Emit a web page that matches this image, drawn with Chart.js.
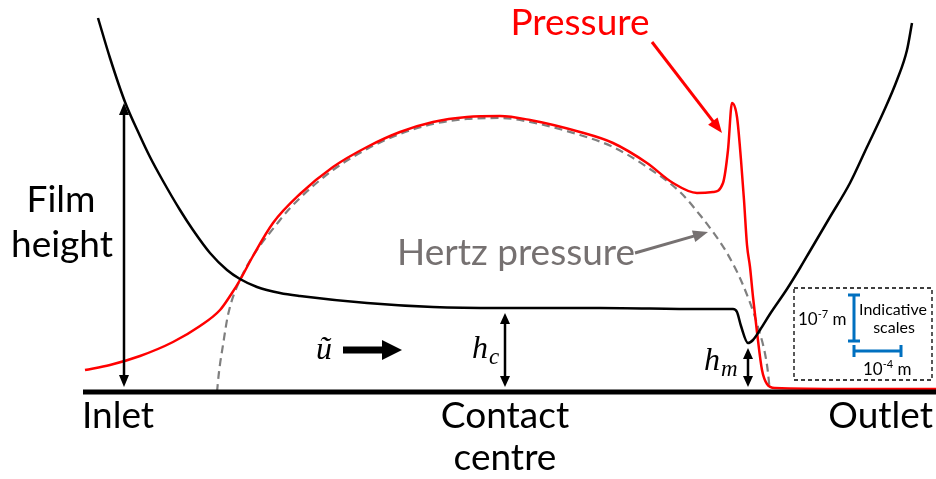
<!DOCTYPE html>
<html>
<head>
<meta charset="utf-8">
<script src="https://cdn.jsdelivr.net/npm/chart.js@4/dist/chart.umd.min.js"></script>
<style>
  html, body { margin: 0; padding: 0; background: #fff; }
  #wrap { width: 936px; height: 479px; position: relative; }
</style>
</head>
<body>
<div id="wrap"><canvas id="chart"></canvas></div>
<script>
// x = position along the contact, h = height above the flat surface (same units for all curves)

// Film height (black)
const filmX = [98, 110, 125, 140, 150, 163, 180, 193, 210, 227, 240, 257, 280, 300, 367, 433, 500, 600, 700, 733, 737, 741, 748, 753, 760, 770, 787, 800, 810, 830, 850, 867, 883, 897, 907, 912];
const filmH = [374, 334, 290, 256, 235, 211, 182, 162, 139, 122, 113, 105, 99, 96, 89, 85, 84, 84, 83, 83, 80, 66, 49, 52, 62, 78, 103, 124, 141, 175, 209, 245, 279, 312, 342, 369];

// EHL pressure (red)
const pressureX = [85, 110, 140, 173, 200, 220, 232, 240, 253, 273, 300, 333, 367, 400, 433, 467, 500, 530, 580, 613, 647, 673, 697, 713, 723, 728, 732, 737, 741, 744, 747, 750, 753, 757, 762, 767, 775, 850, 936];
const pressureH = [22, 27, 36, 50, 66, 82, 99, 112, 136, 169, 198, 225, 245, 260, 270, 275, 276, 272, 260, 249, 229, 209, 199, 200, 209, 242, 289, 275, 232, 192, 147, 125, 95, 60, 22, 8, 4, 3, 3];

// Hertz pressure (grey dashed)
const hertzX = [217, 219, 223, 228, 240, 280, 300, 333, 367, 400, 433, 467, 500, 530, 580, 613, 647, 680, 700, 713, 727, 743, 758, 767, 770];
const hertzH = [0, 20, 47, 77, 112, 172, 194, 222, 243, 258, 268, 273, 274, 270, 257, 245, 225, 200, 177, 160, 139, 107, 65, 27, 0];

// Solid surface
const surfaceX = [83, 936];
const surfaceH = [0, 0];

const toPoints = (xs, ys) => xs.map((v, i) => ({ x: v, y: ys[i] }));

const SANS = 'Lato, "Open Sans", sans-serif';
const SERIF = '"Liberation Serif", "DejaVu Serif", serif';
const RED = '#FF0000';
const GREY = '#767171';
const BLUE = '#0070C0';

function arrowHead(ctx, x1, y1, x2, y2, len, wid) {
  const a = Math.atan2(y2 - y1, x2 - x1);
  ctx.beginPath();
  ctx.moveTo(x2, y2);
  ctx.lineTo(x2 - len * Math.cos(a) + wid / 2 * Math.sin(a), y2 - len * Math.sin(a) - wid / 2 * Math.cos(a));
  ctx.lineTo(x2 - len * Math.cos(a) - wid / 2 * Math.sin(a), y2 - len * Math.sin(a) + wid / 2 * Math.cos(a));
  ctx.closePath();
  ctx.fill();
}

function arrow(ctx, x1, y1, x2, y2, opt) {
  const { color = '#000', width = 2.5, len = 12, wid = 10, both = false } = opt || {};
  const a = Math.atan2(y2 - y1, x2 - x1);
  ctx.save();
  ctx.strokeStyle = color;
  ctx.fillStyle = color;
  ctx.lineWidth = width;
  ctx.beginPath();
  const sx = both ? x1 + (len - 2) * Math.cos(a) : x1;
  const sy = both ? y1 + (len - 2) * Math.sin(a) : y1;
  ctx.moveTo(sx, sy);
  ctx.lineTo(x2 - (len - 2) * Math.cos(a), y2 - (len - 2) * Math.sin(a));
  ctx.stroke();
  arrowHead(ctx, x1, y1, x2, y2, len, wid);
  if (both) arrowHead(ctx, x2, y2, x1, y1, len, wid);
  ctx.restore();
}

function label(ctx, text, x, y, font, color, align) {
  ctx.save();
  ctx.font = font;
  ctx.fillStyle = color;
  ctx.textAlign = align || 'left';
  ctx.textBaseline = 'alphabetic';
  ctx.fillText(text, x, y);
  ctx.restore();
}

// text with a raised exponent, e.g. 10^-7 m
function sciLabel(ctx, base, exp, unit, x, y, size) {
  ctx.save();
  ctx.fillStyle = '#000';
  ctx.textAlign = 'left';
  ctx.textBaseline = 'alphabetic';
  ctx.font = size + 'px ' + SANS;
  ctx.fillText(base, x, y);
  let cx = x + ctx.measureText(base).width;
  ctx.font = Math.round(size * 0.62) + 'px ' + SANS;
  ctx.fillText(exp, cx, y - size * 0.42);
  cx += ctx.measureText(exp).width;
  ctx.font = size + 'px ' + SANS;
  ctx.fillText(unit, cx, y);
  ctx.restore();
}

// math symbol with italic subscript
function mathLabel(ctx, main, sub, x, y, size) {
  ctx.save();
  ctx.fillStyle = '#000';
  ctx.textAlign = 'left';
  ctx.textBaseline = 'alphabetic';
  ctx.font = 'italic ' + size + 'px ' + SERIF;
  ctx.fillText(main, x, y);
  const w = ctx.measureText(main).width;
  if (sub) {
    ctx.font = 'italic ' + Math.round(size * 0.72) + 'px ' + SERIF;
    ctx.fillText(sub, x + w + 1, y + size * 0.2);
  }
  ctx.restore();
}

const notesPlugin = {
  id: 'notes',
  afterDatasetsDraw(chart) {
    const ctx = chart.ctx;
    const X = v => chart.scales.x.getPixelForValue(v);
    const Y = v => chart.scales.y.getPixelForValue(v);

    // axis words
    label(ctx, 'Inlet', X(82), Y(-36), '37px ' + SANS, '#000', 'left');
    label(ctx, 'Contact', X(505), Y(-36), '37px ' + SANS, '#000', 'center');
    label(ctx, 'centre', X(505), Y(-78), '37px ' + SANS, '#000', 'center');
    label(ctx, 'Outlet', X(933), Y(-36), '37px ' + SANS, '#000', 'right');
    label(ctx, 'Film', X(61), Y(180), '37px ' + SANS, '#000', 'center');
    label(ctx, 'height', X(62), Y(135), '37px ' + SANS, '#000', 'center');

    // film height arrow
    arrow(ctx, X(124), Y(289), X(124), Y(5), { both: true, width: 2.5, len: 12, wid: 10 });

    // curve names
    label(ctx, 'Pressure', X(580), Y(357), '37px ' + SANS, RED, 'center');
    arrow(ctx, X(652), Y(350), X(722), Y(259), { color: RED, width: 3, len: 15, wid: 12 });
    label(ctx, 'Hertz pressure', X(397), Y(127), '37px ' + SANS, GREY, 'left');
    arrow(ctx, X(635), Y(139), X(708), Y(160), { color: GREY, width: 3, len: 15, wid: 12 });

    // entrainment velocity
    mathLabel(ctx, 'ũ', null, X(316), Y(33), 32);
    arrow(ctx, X(343), Y(42), X(402), Y(42), { width: 7, len: 20, wid: 20 });

    // central and minimum film thickness
    mathLabel(ctx, 'h', 'c', X(472), Y(34), 32);
    arrow(ctx, X(505), Y(79), X(505), Y(5), { both: true, width: 2.5, len: 11, wid: 10 });
    mathLabel(ctx, 'h', 'm', X(704), Y(22), 32);
    arrow(ctx, X(748), Y(44), X(748), Y(5), { both: true, width: 2.5, len: 11, wid: 10 });

    // indicative scales inset
    ctx.save();
    ctx.strokeStyle = '#000';
    ctx.lineWidth = 1.3;
    ctx.setLineDash([4, 3]);
    ctx.strokeRect(X(794), Y(104), X(932) - X(794), Y(12) - Y(104));
    ctx.setLineDash([]);
    ctx.strokeStyle = BLUE;
    ctx.lineWidth = 3;
    ctx.beginPath();
    ctx.moveTo(X(854), Y(97)); ctx.lineTo(X(854), Y(51));
    ctx.moveTo(X(848), Y(97)); ctx.lineTo(X(860), Y(97));
    ctx.moveTo(X(848), Y(51)); ctx.lineTo(X(860), Y(51));
    ctx.moveTo(X(854), Y(41)); ctx.lineTo(X(901), Y(41));
    ctx.moveTo(X(854), Y(47)); ctx.lineTo(X(854), Y(35));
    ctx.moveTo(X(901), Y(47)); ctx.lineTo(X(901), Y(35));
    ctx.stroke();
    ctx.restore();
    sciLabel(ctx, '10', '-7', ' m', X(798), Y(67), 17);
    label(ctx, 'Indicative', X(893), Y(77), '16px ' + SANS, '#000', 'center');
    label(ctx, 'scales', X(894), Y(59), '16px ' + SANS, '#000', 'center');
    sciLabel(ctx, '10', '-4', ' m', X(863), Y(17), 17);
  }
};

new Chart(document.getElementById('chart'), {
  type: 'line',
  data: {
    datasets: [
      {
        label: 'Surface',
        data: toPoints(surfaceX, surfaceH),
        borderColor: '#000',
        borderWidth: 5,
        order: 0
      },
      {
        label: 'Film height',
        data: toPoints(filmX, filmH),
        borderColor: '#000',
        borderWidth: 2.5,
        cubicInterpolationMode: 'monotone',
        order: 1
      },
      {
        label: 'Pressure',
        data: toPoints(pressureX, pressureH),
        borderColor: RED,
        borderWidth: 2.5,
        cubicInterpolationMode: 'monotone',
        order: 2
      },
      {
        label: 'Hertz pressure',
        data: toPoints(hertzX, hertzH),
        borderColor: '#7F7F7F',
        borderWidth: 2.2,
        borderDash: [8, 5],
        cubicInterpolationMode: 'monotone',
        order: 3
      }
    ]
  },
  options: {
    responsive: true,
    maintainAspectRatio: false,
    animation: false,
    layout: { padding: 0 },
    elements: { point: { radius: 0 } },
    plugins: {
      legend: { display: false },
      tooltip: { enabled: false }
    },
    scales: {
      x: { type: 'linear', min: 0, max: 936, display: false },
      y: { type: 'linear', min: -87, max: 392, display: false }
    }
  },
  plugins: [notesPlugin]
});
</script>
</body>
</html>
